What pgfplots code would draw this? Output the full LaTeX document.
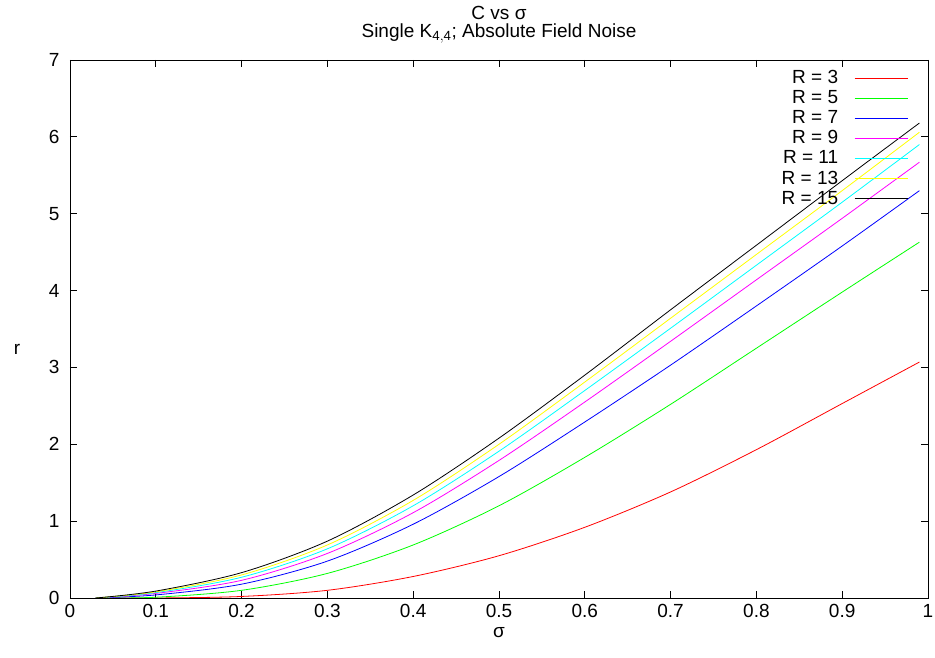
\documentclass[border=0pt]{standalone}
\usepackage{pgfplots}
\pgfplotsset{compat=1.18}
\usepackage{fontspec}
\setmainfont{Liberation Sans}
\definecolor{gpred}{rgb}{1,0,0}
\definecolor{gpgreen}{rgb}{0,1,0}
\definecolor{gpblue}{rgb}{0,0,1}
\definecolor{gpmag}{rgb}{1,0,1}
\definecolor{gpcyan}{rgb}{0,1,1}
\definecolor{gpyellow}{rgb}{1,1,0}
\begin{document}
\fontsize{19}{19}\selectfont
\begin{tikzpicture}
\path[use as bounding box] (-70pt,-60pt) rectangle (865pt,598pt);
\begin{axis}[
  at={(0pt,0pt)}, anchor=south west,
  width=858pt, height=538pt, scale only axis,
  xmin=0, xmax=1, ymin=0, ymax=7,
  xtick={0,0.1,...,1.0}, ytick={0,1,...,7},
  xticklabels={0,0.1,0.2,0.3,0.4,0.5,0.6,0.7,0.8,0.9,1},
  /pgf/number format/assume math mode=true,
  tick align=inside, major tick length=7pt,
  axis line style={line width=0.9pt},
  every tick/.style={black, line width=0.9pt},
  tick label style={font=\fontsize{19}{19}\selectfont},
  yticklabel style={xshift=-4pt},
  label style={font=\fontsize{19}{19}\selectfont},
  xlabel={σ}, ylabel={r},
  xlabel style={at={(axis description cs:0.5,0)}, anchor=center, yshift=-35pt},
  ylabel style={rotate=-90, at={(axis description cs:0,0.5)}, anchor=center, xshift=-53pt, yshift=-20pt},
  title style={align=center, font=\fontsize{19}{18}\selectfont, yshift=4pt},
  title={C vs σ\\[0pt]Single K$_{\mathrm{4,4}}$; Absolute Field Noise},
  legend style={draw=none, fill=none, at={(axis cs:0.977,6.895)}, anchor=north east,
    font=\fontsize{19}{19}\selectfont, row sep=0.1pt, inner sep=0pt},
  legend cell align=right,
  legend plot pos=right,
  legend image code/.code={\path (0pt,0pt); \draw[#1, line width=1pt] (14pt,0pt) -- (67pt,0pt);},
  every axis plot/.append style={line width=0.8pt},
]
\addplot[gpred, smooth] coordinates {(0.03,0) (0.1,0) (0.2,0.02) (0.3,0.10) (0.4,0.28) (0.5,0.55) (0.6,0.92) (0.7,1.38) (0.8,1.93) (0.9,2.53) (0.99,3.07)};
\addlegendentry{R = 3}
\addplot[gpgreen, smooth] coordinates {(0.03,0) (0.1,0.01) (0.2,0.10) (0.3,0.32) (0.4,0.69) (0.5,1.20) (0.6,1.83) (0.7,2.52) (0.8,3.25) (0.9,3.98) (0.99,4.63)};
\addlegendentry{R = 5}
\addplot[gpblue, smooth] coordinates {(0.03,0) (0.1,0.04) (0.2,0.18) (0.3,0.48) (0.4,0.96) (0.5,1.58) (0.6,2.29) (0.7,3.03) (0.8,3.80) (0.9,4.58) (0.99,5.30)};
\addlegendentry{R = 7}
\addplot[gpmag, smooth] coordinates {(0.03,0) (0.1,0.06) (0.2,0.23) (0.3,0.58) (0.4,1.11) (0.5,1.79) (0.6,2.55) (0.7,3.34) (0.8,4.14) (0.9,4.94) (0.99,5.67)};
\addlegendentry{R = 9}
\addplot[gpcyan, smooth] coordinates {(0.03,0) (0.1,0.07) (0.2,0.27) (0.3,0.64) (0.4,1.20) (0.5,1.91) (0.6,2.70) (0.7,3.51) (0.8,4.33) (0.9,5.15) (0.99,5.90)};
\addlegendentry{R = 11}
\addplot[gpyellow, smooth] coordinates {(0.03,0) (0.1,0.08) (0.2,0.30) (0.3,0.69) (0.4,1.27) (0.5,2.00) (0.6,2.81) (0.7,3.64) (0.8,4.47) (0.9,5.30) (0.99,6.06)};
\addlegendentry{R = 13}
\addplot[black, smooth] coordinates {(0.03,0) (0.1,0.09) (0.2,0.33) (0.3,0.74) (0.4,1.34) (0.5,2.08) (0.6,2.90) (0.7,3.75) (0.8,4.59) (0.9,5.43) (0.99,6.18)};
\addlegendentry{R = 15}
\end{axis}
\end{tikzpicture}
\end{document}
